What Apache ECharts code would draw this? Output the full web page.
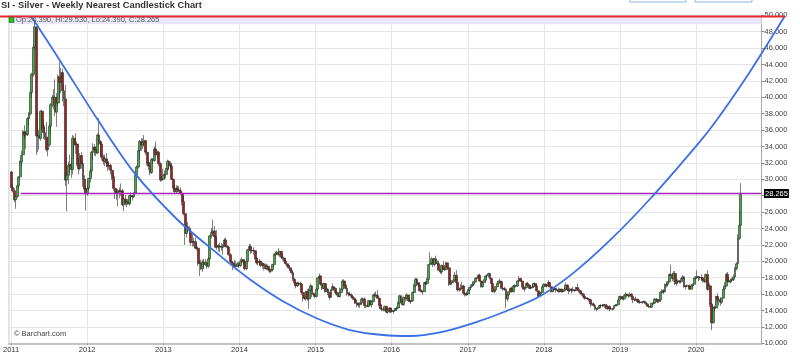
<!DOCTYPE html>
<html><head><meta charset="utf-8">
<script src="https://cdn.jsdelivr.net/npm/echarts@6/dist/echarts.min.js"></script>
<style>html,body{margin:0;padding:0;background:#fff}#c{width:800px;height:362px}</style>
</head><body><div id="c"></div>
<script>
// Weekly candles, each row [open, high, low, close]; each year starts on its first Monday
const yearStarts = ['2011-01-03','2012-01-02','2013-01-07','2014-01-06','2015-01-05','2016-01-04','2017-01-02','2018-01-01','2019-01-07','2020-01-06'];
const w2011 = [[30.9,31.0,28.9,29.0],[29.0,29.4,28.4,28.6],[28.6,28.9,27.2,27.5],[27.5,28.0,26.4,27.9],[27.9,29.3,27.7,29.2],[29.2,30.3,28.9,30.3],[30.3,32.3,30.0,32.1],[32.1,33.5,31.6,32.9],[33.0,36.0,32.9,35.8],[35.8,36.6,34.9,35.4],[35.4,35.9,33.7,35.5],[35.5,37.6,35.3,37.4],[37.4,38.2,36.5,38.0],[38.0,40.8,37.8,40.6],[40.6,43.0,40.0,42.8],[42.8,46.4,42.5,46.1],[46.1,49.2,45.8,48.6],[48.5,48.7,33.0,35.3],[35.3,38.3,33.3,35.3],[35.3,36.0,33.6,35.0],[35.0,38.4,34.7,38.3],[38.3,38.5,35.9,36.3],[36.3,37.3,34.9,35.7],[35.7,36.6,34.8,35.1],[35.1,37.0,33.4,33.6],[33.6,35.2,32.8,34.2],[34.2,36.9,34.0,36.5],[36.5,39.3,35.5,39.1],[39.1,40.3,38.8,40.0],[40.0,41.0,38.5,40.0],[40.0,42.2,37.7,38.2],[38.2,40.5,36.4,39.3],[39.3,42.8,38.9,42.5],[42.5,44.3,39.8,41.8],[41.8,43.6,40.5,43.0],[43.0,43.5,39.5,40.8],[40.8,41.6,38.9,39.8],[39.8,41.5,29.2,29.9],[29.9,32.7,26.1,30.5],[30.5,32.1,29.4,31.7],[31.7,33.0,30.8,31.8],[31.8,32.6,30.2,31.2],[31.2,35.4,30.6,35.0],[35.0,35.3,32.5,34.2],[34.2,35.6,33.1,34.3],[34.3,34.6,31.6,31.9],[31.9,32.6,30.6,31.3],[31.3,33.2,31.1,32.9],[32.9,33.3,31.3,31.9],[31.9,32.2,29.1,30.0],[30.0,30.5,28.6,28.8],[28.8,29.2,26.2,28.2]];
const w2012 = [[28.2,29.8,28.0,28.9],[28.9,30.2,28.7,30.1],[30.1,31.3,29.6,31.0],[31.0,33.5,30.6,33.3],[33.3,34.4,32.3,33.9],[33.9,34.3,32.9,33.6],[33.6,34.0,32.8,33.2],[33.2,35.6,33.1,35.4],[35.4,37.5,34.2,34.6],[34.6,34.8,32.8,34.3],[34.3,34.5,32.3,32.7],[32.7,33.0,31.8,32.2],[32.2,33.0,31.6,32.5],[32.5,33.2,31.5,32.0],[32.0,32.2,31.0,31.6],[31.6,32.2,31.2,31.7],[31.7,31.9,30.6,31.1],[31.1,31.3,29.9,30.3],[30.3,30.6,28.6,28.9],[28.9,29.0,27.6,28.4],[28.4,28.8,27.5,28.3],[28.3,28.8,26.7,28.6],[28.6,29.0,27.7,28.5],[28.5,29.5,28.0,28.6],[28.6,28.8,26.7,26.9],[26.9,27.7,26.1,27.6],[27.6,28.1,26.8,27.1],[27.1,27.4,26.6,27.3],[27.3,27.6,26.9,27.0],[27.0,28.1,26.8,28.0],[28.0,28.4,27.1,27.9],[27.9,28.1,27.4,27.9],[27.9,28.4,27.7,28.3],[28.3,30.8,28.2,30.5],[30.5,31.7,30.3,31.5],[31.5,33.6,31.3,33.5],[33.5,34.8,32.5,34.6],[34.6,35.0,33.5,34.2],[34.2,35.0,33.7,34.5],[34.5,35.4,34.0,34.7],[34.7,34.8,33.0,33.3],[33.3,33.5,31.7,32.0],[32.0,32.3,31.1,31.6],[31.6,32.1,30.5,30.8],[30.8,32.6,30.7,32.4],[32.4,32.6,31.9,32.3],[32.3,34.0,32.1,33.7],[33.7,34.6,32.9,33.0],[33.0,33.5,32.5,33.3],[33.3,33.5,31.6,31.9],[31.9,32.1,29.7,29.9],[29.9,30.4,29.8,30.0],[30.0,31.3,29.9,30.5]];
const w2013 = [[30.5,31.1,30.0,30.6],[30.6,31.4,30.1,31.3],[31.3,32.4,31.1,32.2],[32.2,32.3,31.1,31.9],[31.9,32.2,31.2,31.6],[31.6,31.9,29.9,30.0],[30.0,30.1,28.5,28.9],[28.9,29.4,28.2,28.5],[28.5,29.3,28.3,28.9],[28.9,29.2,28.4,28.7],[28.7,29.2,28.4,28.6],[28.6,29.0,28.1,28.3],[28.3,28.3,26.8,27.3],[27.3,28.0,25.6,25.8],[25.8,25.9,22.0,23.4],[23.4,24.5,22.9,24.2],[24.2,24.8,23.6,24.0],[24.0,24.3,23.3,23.7],[23.7,23.8,21.9,22.3],[22.3,23.3,21.8,22.4],[22.4,22.9,21.8,22.4],[22.4,22.9,21.5,21.6],[21.6,22.2,21.3,21.6],[21.6,21.8,19.4,19.8],[19.8,20.1,18.2,19.7],[19.7,20.2,18.9,19.1],[19.1,20.2,18.7,19.9],[19.9,20.3,19.3,19.6],[19.6,20.3,19.4,19.8],[19.8,20.0,19.1,19.4],[19.4,20.5,19.2,20.3],[20.3,23.2,20.1,23.1],[23.1,24.1,22.8,23.5],[23.5,25.1,23.3,23.7],[23.7,24.3,22.9,23.0],[23.0,23.2,21.6,21.7],[21.7,23.8,21.4,21.9],[21.9,22.1,21.2,21.8],[21.8,22.3,21.1,21.8],[21.8,22.2,21.3,21.7],[21.7,22.1,20.8,21.9],[21.9,22.8,21.8,22.6],[22.6,22.9,21.7,21.8],[21.8,22.0,21.3,21.7],[21.7,21.9,20.7,20.8],[20.8,21.0,19.9,20.0],[20.0,20.1,19.6,19.8],[19.8,20.0,18.9,19.4],[19.4,20.2,19.3,19.5],[19.5,20.0,19.0,19.4],[19.4,19.9,19.3,19.7],[19.7,19.9,19.2,19.5]];
const w2014 = [[19.5,20.3,19.3,20.0],[20.0,20.5,19.8,20.2],[20.2,20.3,19.6,19.9],[19.9,20.2,18.9,19.1],[19.1,20.0,18.9,20.0],[20.0,21.5,19.9,21.4],[21.4,22.1,21.3,21.8],[21.8,22.1,20.9,21.3],[21.3,21.7,21.0,21.3],[21.3,21.7,20.8,21.3],[21.3,21.4,20.2,20.4],[20.4,20.5,19.6,19.8],[19.8,20.1,19.5,20.0],[20.0,20.3,19.5,20.0],[20.0,20.0,19.3,19.5],[19.5,19.9,19.1,19.7],[19.7,19.8,18.9,19.5],[19.5,19.7,19.0,19.1],[19.1,19.7,19.0,19.4],[19.4,19.6,18.9,19.0],[19.0,19.1,18.6,18.8],[18.8,19.1,18.6,19.0],[19.0,19.7,18.9,19.6],[19.6,20.9,19.3,20.8],[20.8,21.2,20.6,21.0],[21.0,21.3,20.8,21.1],[21.1,21.6,20.7,20.8],[20.8,21.3,20.5,21.2],[21.2,21.3,20.3,20.5],[20.5,20.8,20.1,20.4],[20.4,20.4,19.8,20.0],[20.0,20.1,19.6,19.7],[19.7,19.8,19.3,19.5],[19.5,19.6,19.1,19.2],[19.2,19.3,18.8,18.9],[18.9,19.0,18.4,18.6],[18.6,18.7,17.6,17.8],[17.8,18.0,17.2,17.4],[17.4,17.5,16.7,17.0],[17.0,17.5,16.9,17.3],[17.3,17.5,17.1,17.3],[17.3,17.5,17.0,17.2],[17.2,17.3,15.9,16.2],[16.2,16.3,15.1,15.5],[15.5,15.7,15.3,15.5],[15.5,16.4,15.2,16.3],[16.3,16.6,15.2,15.4],[15.4,16.7,14.2,16.5],[16.5,17.3,16.4,17.0],[17.0,17.1,15.6,16.0],[16.0,16.2,15.8,16.0],[16.0,16.1,15.5,15.7]];
const w2015 = [[15.7,16.7,15.6,16.6],[16.6,18.0,16.4,18.0],[18.0,18.5,17.8,18.2],[18.2,18.3,17.0,17.2],[17.2,17.4,16.5,16.7],[16.7,17.4,16.6,17.3],[17.3,17.3,16.2,16.3],[16.3,16.9,16.3,16.6],[16.6,16.7,15.9,16.2],[16.2,16.3,15.3,15.6],[15.6,16.6,15.5,16.5],[16.5,17.3,16.5,16.9],[16.9,16.9,16.4,16.7],[16.7,16.8,16.0,16.2],[16.2,16.4,15.8,16.0],[16.0,16.1,15.6,15.7],[15.7,16.8,15.6,16.2],[16.2,16.7,16.1,16.6],[16.6,17.8,16.5,17.6],[17.6,17.8,16.9,17.1],[17.1,17.1,16.6,16.7],[16.7,16.8,15.8,16.1],[16.1,16.2,15.7,16.0],[16.0,16.3,15.8,15.9],[15.9,16.1,15.6,15.7],[15.7,15.8,15.3,15.5],[15.5,15.6,14.8,15.3],[15.3,15.3,14.9,14.9],[14.9,14.9,14.4,14.7],[14.7,15.0,14.4,14.7],[14.7,15.0,14.3,14.9],[14.9,15.6,14.8,15.4],[15.4,15.6,15.1,15.4],[15.4,15.6,14.3,14.6],[14.6,14.7,14.3,14.6],[14.6,14.8,14.4,14.5],[14.5,15.3,14.4,15.2],[15.2,15.3,14.6,14.7],[14.7,15.2,14.4,15.1],[15.1,16.0,15.0,15.9],[15.9,16.2,15.7,15.9],[15.9,16.3,15.6,15.8],[15.8,16.5,15.4,15.5],[15.5,15.6,14.5,14.7],[14.7,14.8,14.1,14.2],[14.2,14.4,13.9,14.1],[14.1,14.3,13.9,14.1],[14.1,14.6,13.9,14.5],[14.5,14.6,13.7,13.8],[13.8,14.3,13.6,14.0],[14.0,14.4,13.9,14.3],[14.3,14.3,13.7,13.8]];
const w2016 = [[13.9,14.3,13.8,13.9],[13.9,14.1,13.6,14.0],[14.0,14.3,13.9,14.2],[14.2,14.5,14.0,14.3],[14.3,15.1,14.2,14.9],[14.9,15.9,14.9,15.8],[15.8,15.8,14.9,15.3],[15.3,15.4,14.7,14.7],[14.7,15.7,14.6,15.6],[15.6,15.8,15.1,15.5],[15.5,16.1,15.2,15.9],[15.9,15.9,15.1,15.2],[15.2,15.6,15.0,15.1],[15.1,15.3,14.8,15.2],[15.2,16.3,15.2,16.2],[16.2,17.3,16.1,17.0],[17.0,18.0,16.9,17.8],[17.8,18.0,17.2,17.4],[17.4,17.4,16.9,17.1],[17.1,17.2,16.3,16.4],[16.4,16.6,16.2,16.3],[16.3,16.4,15.9,16.3],[16.3,17.4,16.3,17.4],[17.4,17.6,17.1,17.3],[17.3,18.0,17.1,17.8],[17.8,19.6,17.8,19.6],[19.6,21.1,19.5,19.8],[19.8,20.5,19.6,20.3],[20.3,20.3,19.3,19.6],[19.6,20.4,19.4,20.3],[20.3,20.7,19.7,19.8],[19.8,20.1,19.4,19.7],[19.7,20.1,18.9,18.9],[18.9,19.0,18.5,18.7],[18.7,19.6,18.4,19.5],[19.5,20.0,19.0,19.0],[19.0,19.2,18.8,19.0],[19.0,19.9,18.9,19.8],[19.8,19.8,19.1,19.2],[19.2,19.3,17.0,17.2],[17.2,17.6,17.1,17.4],[17.4,17.7,17.2,17.5],[17.5,17.8,17.3,17.7],[17.7,18.7,17.7,18.3],[18.3,18.9,17.2,17.4],[17.4,17.5,16.3,16.5],[16.5,16.8,16.3,16.6],[16.6,17.2,16.4,16.7],[16.7,17.5,16.6,17.0],[17.0,17.1,15.9,16.1],[16.1,16.2,15.7,15.9],[15.9,16.3,15.8,16.0]];
const w2017 = [[16.0,16.6,15.9,16.5],[16.5,16.9,16.4,16.8],[16.8,17.2,16.7,17.0],[17.0,17.2,16.9,17.2],[17.2,17.6,17.0,17.5],[17.5,17.9,17.4,17.9],[17.9,18.1,17.8,18.0],[18.0,18.4,17.9,18.3],[18.3,18.5,17.5,17.6],[17.6,17.6,16.8,16.9],[16.9,17.5,16.8,17.4],[17.4,17.8,17.3,17.7],[17.7,18.3,17.6,18.2],[18.2,18.4,17.9,18.3],[18.3,18.6,18.0,18.5],[18.5,18.6,17.8,17.9],[17.9,18.0,17.2,17.3],[17.3,17.3,16.2,16.3],[16.3,16.6,16.1,16.5],[16.5,17.0,16.4,16.9],[16.9,17.3,16.9,17.3],[17.3,17.6,17.2,17.6],[17.6,17.9,17.4,17.5],[17.5,17.6,16.6,16.7],[16.7,16.8,16.4,16.6],[16.6,16.9,16.4,16.6],[16.6,16.7,14.3,15.4],[15.4,16.0,15.1,15.9],[15.9,16.4,15.8,16.3],[16.3,16.8,16.2,16.7],[16.7,16.9,16.2,16.3],[16.3,17.1,16.2,17.0],[17.0,17.2,16.8,17.0],[17.0,17.1,16.8,17.0],[17.0,17.7,16.9,17.6],[17.6,18.2,17.6,17.9],[17.9,18.0,17.5,17.6],[17.6,17.7,16.8,16.9],[16.9,17.0,16.6,16.6],[16.6,16.8,16.3,16.8],[16.8,17.4,16.7,17.3],[17.3,17.5,17.0,17.1],[17.1,17.2,16.6,16.7],[16.7,17.1,16.6,16.8],[16.8,17.2,16.7,16.9],[16.9,17.4,16.8,17.3],[17.3,17.4,17.0,17.0],[17.0,17.2,16.3,16.4],[16.4,16.4,15.6,15.8],[15.8,16.1,15.7,16.0],[16.0,16.3,15.9,16.2],[16.2,17.0,16.2,16.9]];
const w2018 = [[16.9,17.3,16.9,17.2],[17.2,17.3,16.9,17.0],[17.0,17.2,16.8,17.0],[17.0,17.7,16.9,17.4],[17.4,17.5,16.8,16.9],[16.9,16.9,16.2,16.3],[16.3,16.8,16.3,16.7],[16.7,16.8,16.4,16.6],[16.6,16.7,16.2,16.5],[16.5,16.8,16.4,16.5],[16.5,16.8,16.2,16.3],[16.3,16.7,16.2,16.6],[16.6,16.7,16.2,16.3],[16.3,16.6,16.2,16.4],[16.4,16.7,16.3,16.6],[16.6,17.4,16.6,17.1],[17.1,17.2,16.4,16.5],[16.5,16.6,16.0,16.4],[16.4,16.8,16.3,16.6],[16.6,16.7,16.1,16.5],[16.5,16.9,16.3,16.5],[16.5,16.6,16.3,16.4],[16.4,16.9,16.4,16.8],[16.8,17.3,16.5,16.6],[16.6,16.6,16.2,16.4],[16.4,16.5,16.0,16.1],[16.1,16.2,15.8,16.0],[16.0,16.1,15.6,15.7],[15.7,15.8,15.3,15.5],[15.5,15.6,15.4,15.5],[15.5,15.6,15.3,15.4],[15.4,15.5,15.1,15.3],[15.3,15.3,14.4,14.8],[14.8,14.9,14.6,14.8],[14.8,15.0,14.5,14.6],[14.6,14.7,14.0,14.2],[14.2,14.3,13.9,14.2],[14.2,14.4,14.1,14.3],[14.3,14.7,14.2,14.6],[14.6,14.8,14.4,14.6],[14.6,14.8,14.4,14.6],[14.6,14.8,14.5,14.7],[14.7,14.8,14.3,14.6],[14.6,14.8,14.2,14.2],[14.2,14.5,14.1,14.5],[14.5,14.6,13.9,14.2],[14.2,14.4,14.1,14.2],[14.2,14.3,14.0,14.2],[14.2,14.6,14.1,14.6],[14.6,14.8,14.5,14.6],[14.6,14.8,14.5,14.7],[14.7,15.4,14.7,15.3],[15.3,15.8,15.3,15.7]];
const w2019 = [[15.7,15.8,15.4,15.6],[15.6,15.7,15.3,15.4],[15.4,15.9,15.2,15.8],[15.8,16.2,15.8,16.0],[16.0,16.0,15.6,15.8],[15.8,15.8,15.5,15.8],[15.8,16.2,15.7,16.0],[16.0,16.1,15.6,15.7],[15.7,15.7,14.9,15.3],[15.3,15.5,15.1,15.3],[15.3,15.7,15.2,15.4],[15.4,15.4,14.9,15.1],[15.1,15.2,14.9,15.0],[15.0,15.3,14.8,15.0],[15.0,15.1,14.9,15.0],[15.0,15.1,14.8,15.1],[15.1,15.2,14.8,15.0],[15.0,15.0,14.7,14.8],[14.8,14.9,14.5,14.5],[14.5,14.6,14.3,14.5],[14.5,14.6,14.3,14.4],[14.4,14.9,14.4,14.9],[14.9,15.1,14.7,14.9],[14.9,15.5,14.8,15.4],[15.4,15.5,15.0,15.3],[15.3,15.4,14.9,15.1],[15.1,15.4,14.9,15.3],[15.3,16.4,15.2,16.2],[16.2,16.6,16.1,16.4],[16.4,16.6,16.0,16.3],[16.3,17.3,16.2,17.1],[17.1,17.3,16.8,17.2],[17.2,17.6,16.9,17.5],[17.5,18.5,17.4,18.4],[18.4,19.6,18.2,18.3],[18.3,18.6,17.6,17.9],[17.9,18.8,17.5,18.5],[18.5,18.8,17.1,17.3],[17.3,17.8,17.0,17.5],[17.5,17.8,17.3,17.6],[17.6,17.7,17.3,17.5],[17.5,17.9,17.3,17.9],[17.9,18.3,17.8,18.1],[18.1,18.2,16.8,16.9],[16.9,17.1,16.6,17.0],[17.0,17.2,16.9,17.0],[17.0,17.1,16.8,17.0],[17.0,17.2,16.5,16.6],[16.6,17.1,16.6,17.0],[17.0,17.3,16.9,17.2],[17.2,18.0,17.2,17.9],[17.9,18.2,17.8,18.1]];
const w2020 = [[18.1,18.9,17.9,18.1],[18.1,18.2,17.6,18.0],[18.0,18.2,17.7,18.0],[18.0,18.4,17.6,18.0],[18.0,18.1,17.4,17.7],[17.7,17.8,17.4,17.5],[17.5,18.5,17.5,18.4],[18.4,18.9,16.4,16.6],[16.6,17.5,16.5,17.0],[17.0,17.3,14.4,14.8],[14.8,14.9,11.6,12.5],[12.5,14.6,12.4,14.4],[14.4,14.6,13.9,14.3],[14.3,15.8,14.2,15.7],[15.7,16.1,15.1,15.3],[15.3,15.5,14.6,15.3],[15.3,15.6,14.6,15.0],[15.0,15.6,14.8,15.5],[15.5,16.8,15.5,16.6],[16.6,17.5,16.6,17.0],[17.0,18.6,16.9,18.4],[18.4,18.7,17.4,17.6],[17.6,18.0,17.4,17.5],[17.5,17.9,17.3,17.7],[17.7,18.0,17.5,17.8],[17.8,18.4,17.6,18.1],[18.1,19.3,18.0,19.1],[19.1,19.9,18.9,19.7],[19.7,23.3,19.6,22.8],[22.8,26.2,22.6,24.4],[24.39,29.53,24.39,28.265]];
const years = [w2011,w2012,w2013,w2014,w2015,w2016,w2017,w2018,w2019,w2020];

// Hand-drawn U-shaped trend curve (date, price)
const trendDates = ['2011-04-26','2011-09-29','2012-03-03','2012-08-25','2013-03-20','2013-09-27','2014-03-05','2014-08-11','2015-01-17','2015-06-25','2015-12-01','2016-04-07','2016-08-28','2017-02-03','2017-07-12','2017-12-18','2018-05-26','2018-11-18','2019-06-01','2020-01-21','2020-04-12','2020-09-16','2021-02-28'];
const trendValues = [49.85,43.70,37.44,30.93,25.16,21.01,17.78,15.10,13.05,11.62,11.01,10.89,11.33,12.46,13.94,15.74,18.56,22.57,27.72,34.60,37.29,43.13,49.85];
const resistance = 49.85, bandLow = 48.9;
const lastLineStart = '2011-02-17';
const last = {op:24.390, hi:29.530, lo:24.390, cl:28.265};
const yTicks = {min:10, max:50, step:2};
const xRange = ['2010-12-21','2020-11-10'];

const D = s => Date.parse(s + 'T00:00:00Z');
const WEEK = 7*864e5;
const candles = [];
years.forEach((rows, k) => {
  const s = D(yearStarts[k]);
  rows.forEach((r, i) => candles.push([s + i*WEEK, r[0], r[3], r[2], r[1]]));
});
const trend = trendDates.map((d,i)=>[D(d), trendValues[i]]);

// layout: main plot spans x 5..761.5; overlay grid spans x 0..785 with the same time scale
const G = {l:5, r:761.5, t:15.3, b:343.3, ovR:785};
const xMin = D(xRange[0]), xMax = D(xRange[1]);
const msPerPx = (xMax - xMin)/(G.r - G.l);
const x2Min = xMin - G.l*msPerPx, x2Max = xMax + (G.ovR - G.r)*msPerPx;

const chart = echarts.init(document.getElementById('c'), null, {renderer:'canvas'});
const FONT = 'Liberation Sans, Arial, sans-serif';
chart.setOption({
  animation:false,
  backgroundColor:'#fff',
  grid:[
    {left:G.l, right:800-G.r, top:G.t, bottom:362-G.b, show:true, borderColor:'#d6d6d6', borderWidth:1},
    {left:0, right:800-G.ovR, top:G.t, bottom:362-G.b, show:false}
  ],
  xAxis:[
    {type:'time', gridIndex:0, min:xMin, max:xMax, splitNumber:10,
      axisLine:{lineStyle:{color:'#c4c4c4', width:2}},
      axisTick:{show:true, length:2, lineStyle:{color:'#999'}},
      axisLabel:{formatter:'{yyyy}', fontSize:7.5, color:'#333', margin:3, fontFamily:FONT, hideOverlap:false, alignMinLabel:'center', alignMaxLabel:'center'},
      splitLine:{show:true, lineStyle:{color:'#e6e6e6', width:1}}},
    {type:'time', gridIndex:1, min:x2Min, max:x2Max, show:false}
  ],
  yAxis:[
    {type:'value', gridIndex:0, position:'right', min:yTicks.min, max:yTicks.max, interval:yTicks.step,
      axisLine:{show:true, lineStyle:{color:'#aaa'}},
      axisTick:{show:true, length:3, lineStyle:{color:'#888'}},
      axisLabel:{formatter:v=>v.toFixed(3), fontSize:7.5, color:'#444', margin:3, fontFamily:FONT},
      splitLine:{show:true, lineStyle:{color:'#e6e6e6'}}},
    {type:'value', gridIndex:1, min:yTicks.min, max:yTicks.max, show:false}
  ],
  series:[
    {type:'line', name:'band', xAxisIndex:0, yAxisIndex:0, data:[[xMin,resistance],[xMax,resistance]],
      symbol:'none', z:1, lineStyle:{width:0, opacity:0}, silent:true,
      markArea:{silent:true, itemStyle:{color:'#ebe7fb'}, data:[[{yAxis:bandLow},{yAxis:resistance}]]}},
    {type:'candlestick', name:'SI', xAxisIndex:0, yAxisIndex:0, data:candles, encode:{x:0, y:[1,2,3,4]}, barWidth:2.4, z:3,
      itemStyle:{color:'#3fae3f', color0:'#a41e1e', borderColor:'#2a2a2a', borderColor0:'#2a2a2a', borderWidth:0.6}},
    {type:'line', name:'last', xAxisIndex:0, yAxisIndex:0, data:[[D(lastLineStart),last.cl],[xMax,last.cl]],
      symbol:'none', z:6, lineStyle:{color:'#a424bd', width:1.5}},
    {type:'line', name:'trend', xAxisIndex:1, yAxisIndex:1, data:trend, smooth:0.3, symbol:'none', clip:false, z:7,
      lineStyle:{color:'#3b6fe6', width:1.8}},
    {type:'line', name:'resistance', xAxisIndex:1, yAxisIndex:1, data:[[x2Min,resistance],[x2Max,resistance]],
      symbol:'none', clip:false, z:8, lineStyle:{color:'#e8262c', width:2}}
  ]
});

const py = chart.convertToPixel({yAxisIndex:0}, last.cl);
chart.setOption({
  graphic:[
    {type:'text', left:1, top:1, style:{text:'SI - Silver - Weekly Nearest Candlestick Chart', font:'bold 9.3px '+FONT, fill:'#333'}},
    {type:'rect', shape:{x:630, y:-6, width:56, height:8}, style:{fill:'#fff', stroke:'#8cb8e6', lineWidth:1}},
    {type:'rect', shape:{x:695, y:-6, width:57, height:8}, style:{fill:'#fff', stroke:'#8cb8e6', lineWidth:1}},
    {type:'rect', shape:{x:9, y:17.5, width:5, height:5}, style:{fill:'#22c022', stroke:'#1a6a1a', lineWidth:0.6}, z:100},
    {type:'text', left:16, top:16, z:100, style:{text:'Op:'+last.op.toFixed(3)+', Hi:'+last.hi.toFixed(3)+', Lo:'+last.lo.toFixed(3)+', C:'+last.cl.toFixed(3), font:'7.5px '+FONT, fill:'#555'}},
    {type:'text', left:14, top:330, z:100, style:{text:'© Barchart.com', font:'7.5px '+FONT, fill:'#444'}},
    {type:'text', x:764, y:py, z:100, style:{text:last.cl.toFixed(3), font:'7.5px '+FONT, fill:'#fff', backgroundColor:'#000', padding:[1,1,0,1], verticalAlign:'middle'}}
  ]
});
</script></body></html>
